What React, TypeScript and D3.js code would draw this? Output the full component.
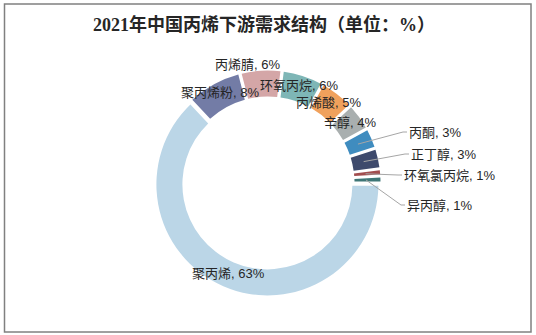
import React from "react";
import * as d3 from "d3";

const categories = ["聚丙烯", "聚丙烯粉", "丙烯腈", "环氧丙烷", "丙烯酸", "辛醇", "丙酮", "正丁醇", "环氧氯丙烷", "异丙醇"];
const values = [63, 8, 6, 6, 5, 4, 3, 3, 1, 1];
const colors = ["#BBD6E7", "#737CA6", "#D4A6A7", "#7EB6B6", "#F0A15C", "#A9AFAF", "#3F8CBF", "#3E4A6C", "#A24D4E", "#3E7676"];
const title = "2021年中国丙烯下游需求结构（单位：%）";

// label layout: [x, y, hasLeader]
const labelLayout: [number, number, boolean][] = [
  [192, 273, false],
  [181, 92, false],
  [215, 64, false],
  [260, 85, false],
  [296, 102, false],
  [324, 122, false],
  [409, 132, true],
  [411, 154, true],
  [404, 175, true],
  [407, 205, true],
];

const W = 536;
const H = 335;
const cx = 268;
const cy = 183;
const outerR = 111;
const innerR = 85;

export default function App() {
  const pie = d3
    .pie<number>()
    .sort(null)
    .startAngle(Math.PI / 2)
    .endAngle(Math.PI / 2 + Math.PI * 2);
  const arcs = pie(values);
  const arc = d3
    .arc<d3.PieArcDatum<number>>()
    .innerRadius(innerR)
    .outerRadius(outerR)
    .padAngle(0.028)
    .padRadius(100);
  const explode = 1.5;
  const font = "'Liberation Sans', Arial, 'Noto Sans CJK SC', sans-serif";
  return (
    <svg
      width={W}
      height={H}
      style={{ position: "absolute", left: 0, top: 0, background: "#fff" }}
    >
      <rect x={0} y={0} width={W} height={H} fill="#fff" />
      <rect x={4.5} y={4} width={526.5} height={328} fill="none" stroke="#808080" strokeWidth={1.5} />
      <text
        x={264}
        y={25}
        textAnchor="middle"
        dominantBaseline="central"
        fontFamily="'Liberation Serif', 'Noto Sans CJK SC', serif"
        fontWeight="bold"
        fontSize={18}
        fill="#262626"
      >
        {title}
      </text>
      <g transform={`translate(${cx},${cy})`}>
        {arcs.map((a, i) => {
          const mid = (a.startAngle + a.endAngle) / 2;
          const dx = Math.sin(mid) * explode;
          const dy = -Math.cos(mid) * explode;
          return (
            <path
              key={categories[i]}
              d={arc(a) || ""}
              fill={colors[i]}
              transform={`translate(${dx},${dy})`}
            />
          );
        })}
      </g>
      {arcs.map((a, i) => {
        const [lx, ly, leader] = labelLayout[i];
        if (!leader) return null;
        const [px, py] = arc.centroid(a);
        return (
          <polyline
            key={"l" + i}
            points={`${cx + px},${cy + py} ${lx - 6},${ly} ${lx - 2},${ly}`}
            fill="none"
            stroke="#A6A6A6"
            strokeWidth={1}
          />
        );
      })}
      {arcs.map((a, i) => {
        const [lx, ly] = labelLayout[i];
        return (
          <text
            key={"t" + i}
            x={lx}
            y={ly}
            dominantBaseline="central"
            fontFamily={font}
            fontSize={13}
            fill="#262626"
          >
            {`${categories[i]}, ${values[i]}%`}
          </text>
        );
      })}
    </svg>
  );
}
